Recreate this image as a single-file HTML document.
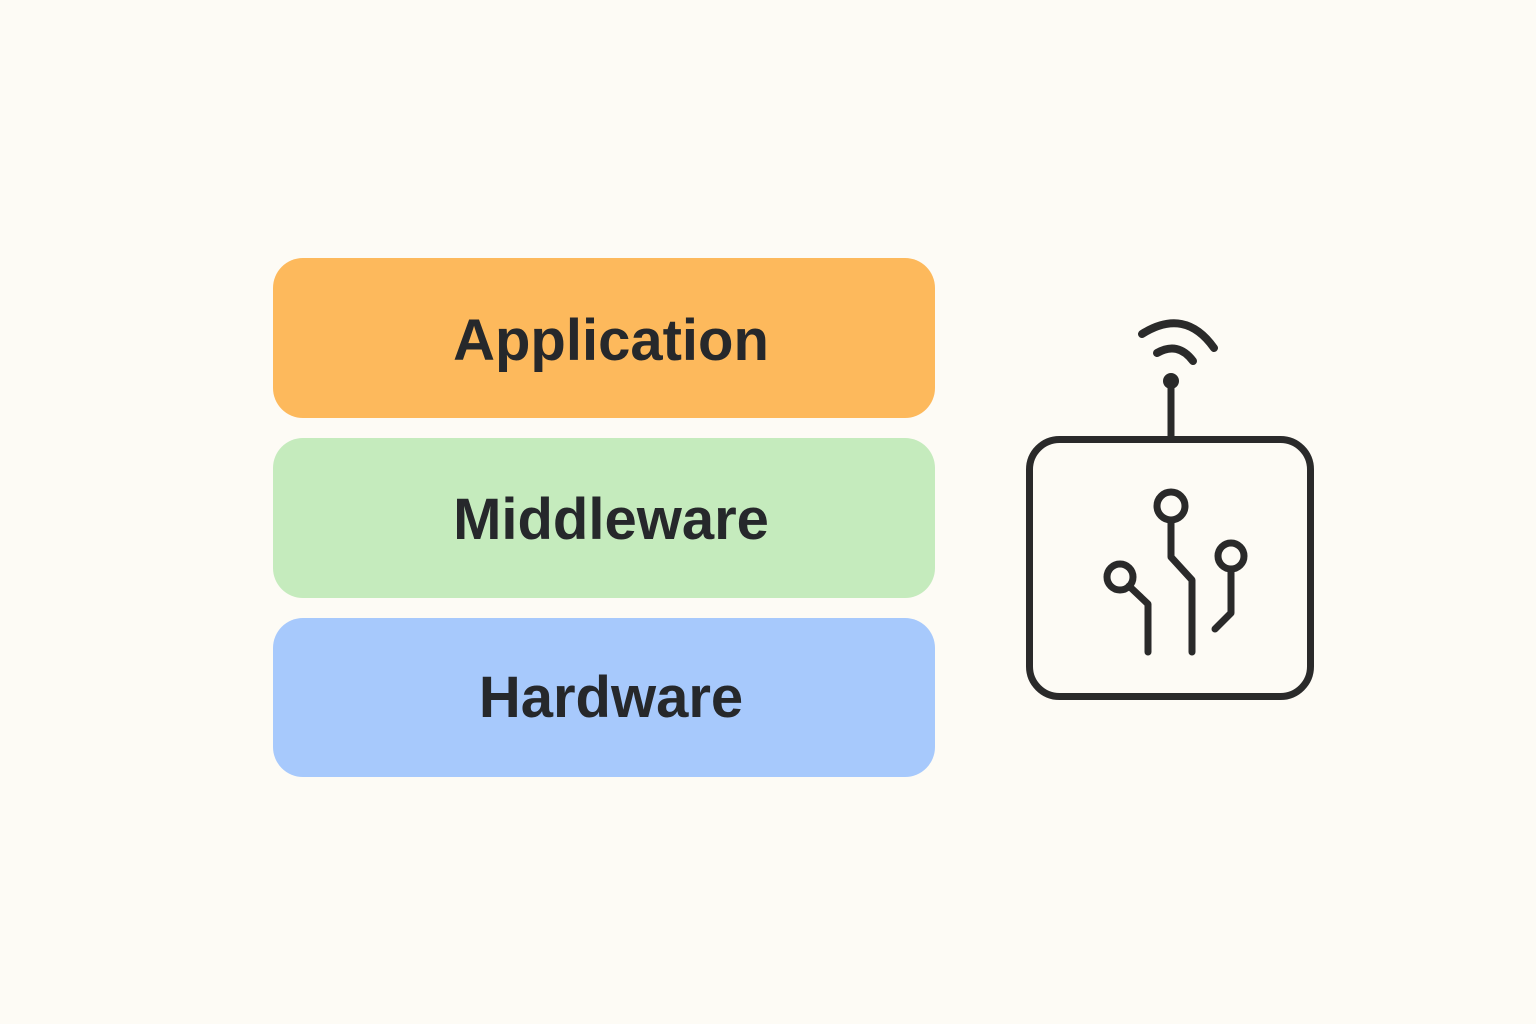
<!DOCTYPE html>
<html><head><meta charset="utf-8"><style>
html,body{margin:0;padding:0;background:#FDFBF5;}
body{width:1536px;height:1024px;position:relative;overflow:hidden;font-family:"Liberation Sans",Arial,sans-serif;}
.b{position:absolute;left:273px;width:662px;height:160px;border-radius:30px;display:flex;align-items:center;justify-content:center;font-weight:bold;font-size:58px;color:#26282b;}
.b span{padding-left:14px;}
</style></head><body>
<div class="b" style="top:258px;background:#FDB95C;"><span style="margin-top:4px">Application</span></div>
<div class="b" style="top:438px;background:#C5EBBD;"><span style="margin-top:2px">Middleware</span></div>
<div class="b" style="top:618px;height:159px;background:#A7C9FC;"><span style="margin-top:0px">Hardware</span></div>
<svg width="1536" height="1024" style="position:absolute;left:0;top:0" fill="none" stroke="#2a2a2a" stroke-linecap="round" stroke-linejoin="round">
<rect x="1029.5" y="439.5" width="281" height="257" rx="30" stroke-width="7"/>
<line x1="1171" y1="381" x2="1171" y2="437" stroke-width="7"/>
<circle cx="1171" cy="381" r="8" fill="#2a2a2a" stroke="none"/>
<path d="M1157 353 Q1178 341 1193 361" stroke-width="8"/>
<path d="M1142 334 Q1185 307 1214 348" stroke-width="8"/>
<circle cx="1120" cy="577" r="13" stroke-width="7"/>
<path d="M1129 586 L1148 604 L1148 652" stroke-width="7"/>
<circle cx="1171" cy="506" r="14" stroke-width="7"/>
<path d="M1171 520 L1171 557 L1192 580 L1192 652" stroke-width="7"/>
<circle cx="1231" cy="556" r="13" stroke-width="7"/>
<path d="M1231 569 L1231 613 L1215 629" stroke-width="7"/>
</svg>
</body></html>
